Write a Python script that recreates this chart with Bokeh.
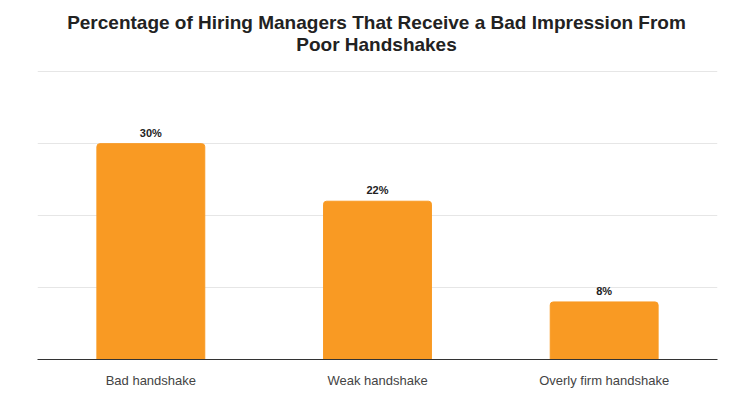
from bokeh.plotting import figure
from bokeh.models import ColumnDataSource, Label
from bokeh.embed import file_html
from bokeh.resources import INLINE
from bokeh.core.properties import value

categories = ["Bad handshake", "Weak handshake", "Overly firm handshake"]
percentages = [30, 22, 8]
labels = ["30%", "22%", "8%"]
y_ticks = [10, 20, 30, 40]
title_lines = ["Percentage of Hiring Managers That Receive a Bad Impression From",
               "Poor Handshakes"]

source = ColumnDataSource(dict(cat=categories, pct=percentages, lab=labels))

# frame extends up to the top of the canvas so the title can sit inside it
p = figure(
    x_range=categories, y_range=(0, 49.9),
    width=729, height=390,
    output_backend="svg", toolbar_location=None,
    min_border_left=37, min_border_right=12, min_border_bottom=29, min_border_top=0,
)

# screen units measured from the frame's bottom-left corner
for line, sy in zip(title_lines, [337, 315]):
    p.add_layout(Label(x=339, y=sy, x_units="screen", y_units="screen", text=line,
                       text_align="center", text_baseline="middle",
                       text_font="Liberation Sans", text_font_size="19px",
                       text_font_style="bold", text_color="#222222"))

p.vbar(x="cat", top="pct", width=0.476, source=source, color="#F99A23",
       border_radius=(3, 3, 0, 0))
p.text(x="cat", y="pct", text="lab", source=source, text_align="center",
       text_baseline="bottom", y_offset=-5, text_font=value("Liberation Sans"),
       text_font_size="11px", text_font_style="bold", text_color="#222222")

p.yaxis.visible = False
p.xgrid.visible = False
p.ygrid.grid_line_color = "#e6e6e6"
p.yaxis.ticker = [0] + y_ticks
p.ygrid.ticker = y_ticks
p.xaxis.axis_line_color = "#333333"
p.xaxis.major_tick_line_color = None
p.xaxis.minor_tick_line_color = None
p.xaxis.major_label_text_font = "Liberation Sans"
p.xaxis.major_label_text_font_size = "13px"
p.xaxis.major_label_text_color = "#444444"
p.xaxis.major_label_standoff = 7
p.outline_line_color = None

open("out.html", "w").write(file_html(p, INLINE))
